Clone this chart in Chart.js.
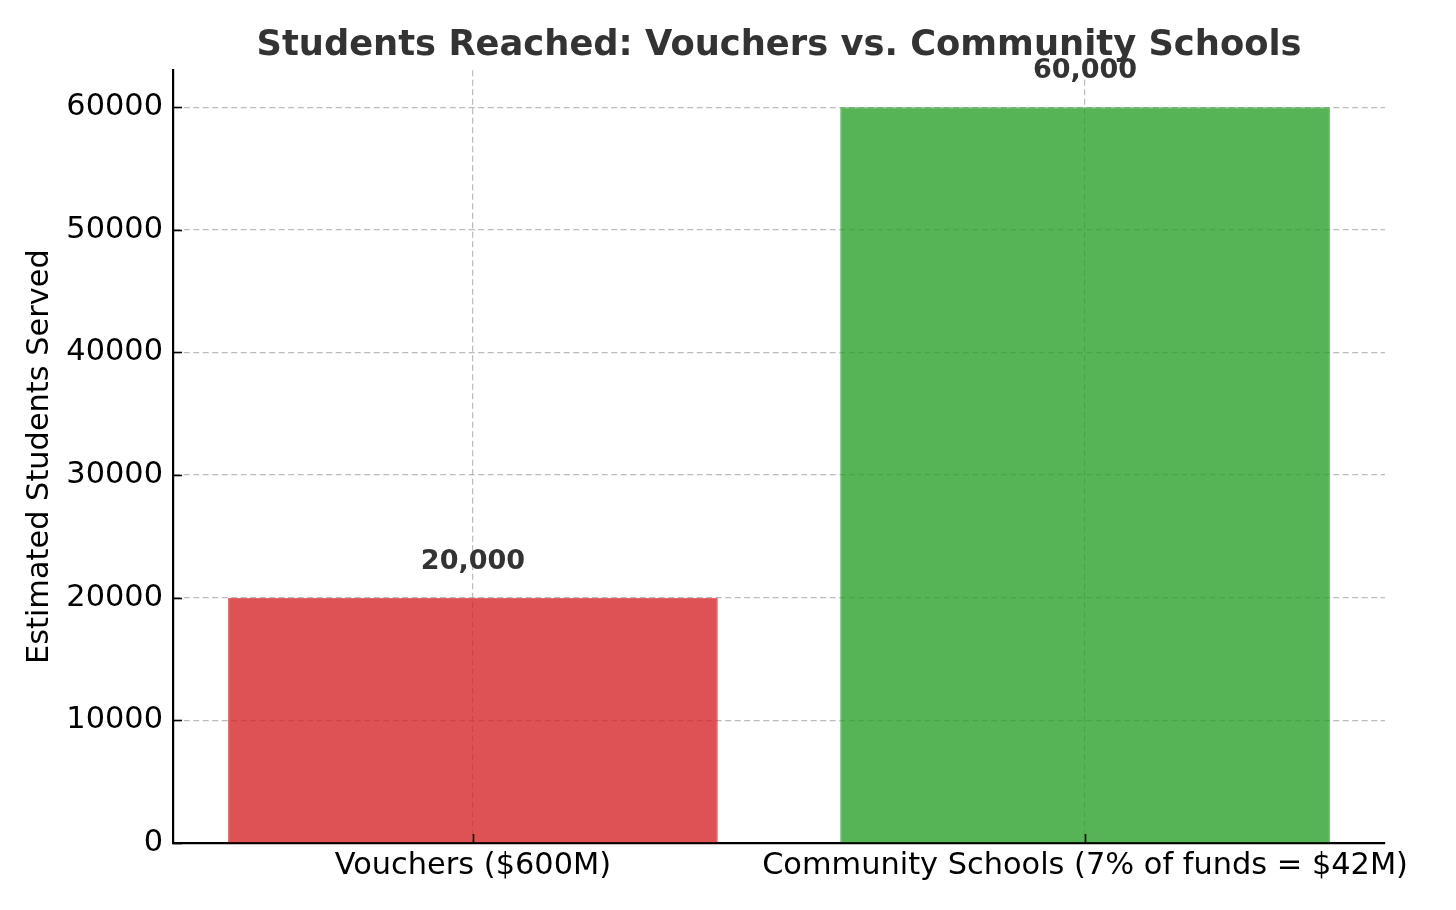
<!DOCTYPE html>
<html>
<head>
<meta charset="utf-8">
<script src="https://cdn.jsdelivr.net/npm/chart.js@4.4.1/dist/chart.umd.min.js"></script>
<style>
  html, body { margin: 0; padding: 0; background: #fff; }
  #wrap { width: 1456px; height: 910px; }
</style>
</head>
<body>
<div id="wrap"><canvas id="chart"></canvas></div>
<script>
// data
const categories = ['Vouchers ($600M)', 'Community Schools (7% of funds = $42M)'];
const studentsServed = [20000, 60000];
const valueLabels = ['20,000', '60,000'];
const yTicks = [0, 10000, 20000, 30000, 40000, 50000, 60000];

const barColors = ['rgba(214,39,40,0.8)', 'rgba(44,160,44,0.8)'];
const gridColor = 'rgba(176,176,176,0.85)';

// value labels above bars + inward tick marks (matplotlib style)
const extras = {
  id: 'extras',
  afterDraw(chart) {
    const ctx = chart.ctx;
    const xs = chart.scales.x;
    const ys = chart.scales.y;
    const meta = chart.getDatasetMeta(0);

    ctx.save();
    ctx.strokeStyle = '#000';
    ctx.lineWidth = 1.6;
    xs.ticks.forEach((t, i) => {
      const px = Math.round(xs.getPixelForTick(i)) + 0.5;
      ctx.beginPath();
      ctx.moveTo(px, xs.top);
      ctx.lineTo(px, xs.top - 9);
      ctx.stroke();
    });
    ys.ticks.forEach((t, i) => {
      const py = Math.round(ys.getPixelForTick(i)) + 0.5;
      ctx.beginPath();
      ctx.moveTo(ys.right, py);
      ctx.lineTo(ys.right + 9, py);
      ctx.stroke();
    });

    ctx.fillStyle = '#333333';
    ctx.font = 'bold 27px "DejaVu Sans"';
    ctx.textAlign = 'center';
    ctx.textBaseline = 'alphabetic';
    meta.data.forEach((bar, i) => {
      ctx.fillText(valueLabels[i], bar.x, bar.y - 29);
    });
    ctx.restore();
  }
};

new Chart(document.getElementById('chart'), {
  type: 'bar',
  data: {
    datasets: [{
      data: studentsServed.map((v, i) => ({ x: i, y: v })),
      backgroundColor: barColors,
      borderColor: barColors,
      borderWidth: 1,
      barPercentage: 0.8,
      categoryPercentage: 1.0,
    }],
  },
  options: {
    responsive: true,
    maintainAspectRatio: false,
    animation: false,
    devicePixelRatio: 1,
    layout: { padding: { left: 0, right: 71, top: 0, bottom: 0 } },
    plugins: {
      legend: { display: false },
      tooltip: { enabled: false },
      title: {
        display: true,
        text: 'Students Reached: Vouchers vs. Community Schools',
        fullSize: false,
        color: '#333333',
        font: { family: 'DejaVu Sans', size: 35.3, weight: 'bold' },
        padding: { top: 25, bottom: 3 },
      },
    },
    scales: {
      x: {
        type: 'linear',
        z: 1,
        min: -0.49,
        max: 1.49,
        offset: false,
        afterBuildTicks(scale) {
          scale.ticks = categories.map((c, i) => ({ value: i }));
        },
        grid: {
          offset: false,
          color: gridColor,
          lineWidth: 1.2,
          drawTicks: false,
        },
        border: { display: true, color: '#000', width: 2.2, dash: [6, 3.5] },
        ticks: {
          color: '#000',
          padding: 5,
          maxRotation: 0,
          autoSkip: false,
          font: { family: 'DejaVu Sans', size: 30.4 },
          callback: (v) => categories[v],
        },
        afterFit(scale) { scale.height = 67; },
      },
      y: {
        z: 1,
        min: 0,
        max: 63000,
        afterBuildTicks(scale) {
          scale.ticks = yTicks.map((v) => ({ value: v }));
        },
        grid: {
          color: gridColor,
          lineWidth: 1.2,
          drawTicks: false,
        },
        border: { display: true, color: '#000', width: 2.2, dash: [6, 3.5] },
        ticks: {
          color: '#000',
          padding: 10,
          font: { family: 'DejaVu Sans', size: 30.4 },
          callback: (v) => String(v),
        },
        title: {
          display: true,
          text: 'Estimated Students Served',
          color: '#000',
          font: { family: 'DejaVu Sans', size: 30.4 },
          padding: { top: 22, bottom: 0 },
        },
        afterFit(scale) { scale.width = 173; },
      },
    },
  },
  plugins: [extras],
});
</script>
</body>
</html>
